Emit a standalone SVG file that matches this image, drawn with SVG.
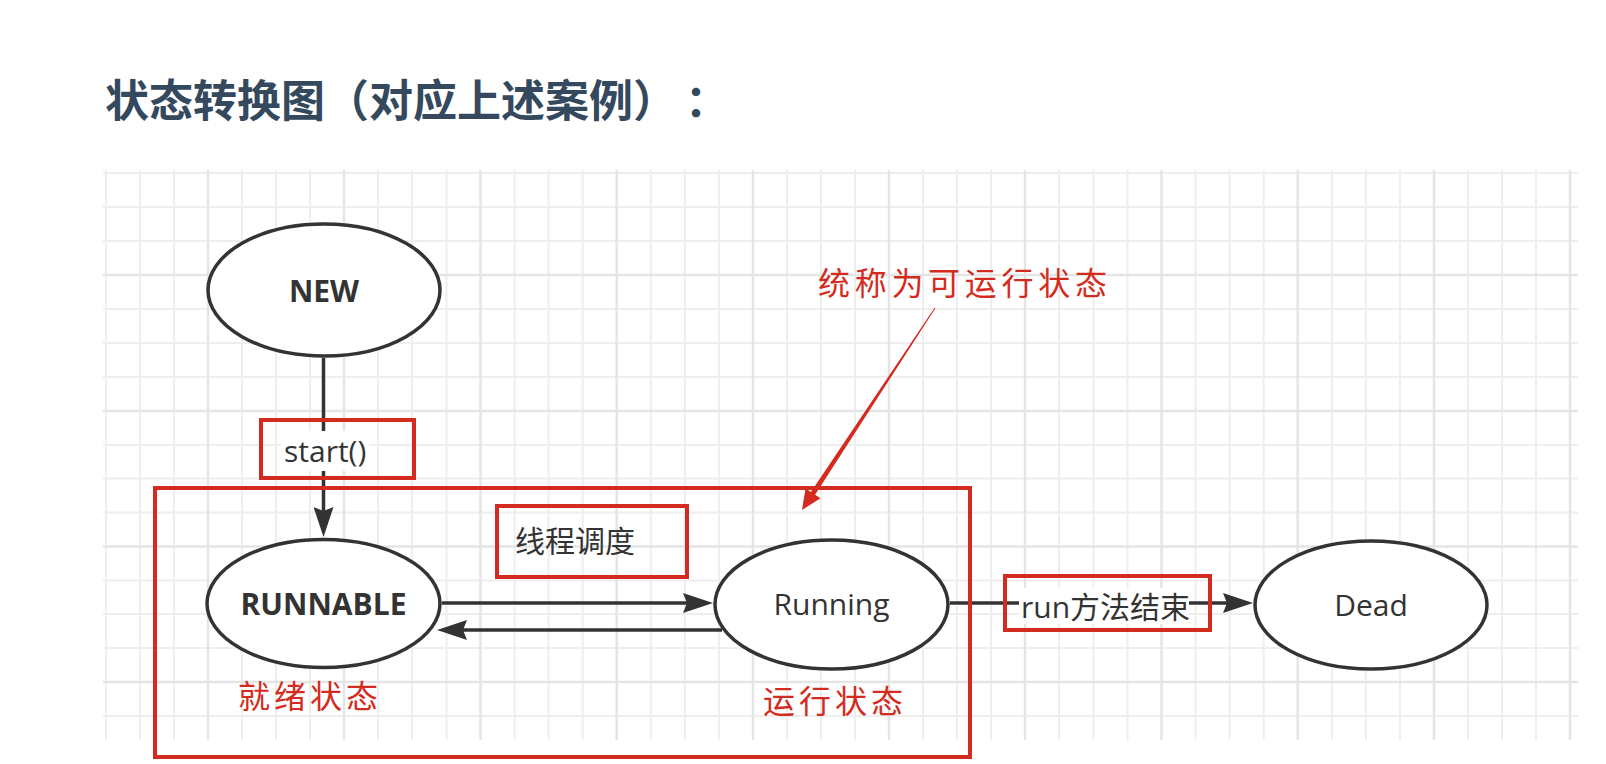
<svg xmlns="http://www.w3.org/2000/svg" width="1606" height="764" viewBox="0 0 1606 764">
<style>
.gmin{stroke:#eeeeee;stroke-width:2;fill:none}
.gmaj{stroke:#e5e5e5;stroke-width:2.5;fill:none}
.node{fill:#ffffff;stroke:#333333;stroke-width:3.5}
.ntext{font-family:"Open Sans","Noto Sans CJK SC",sans-serif;font-size:30px;fill:#333333;text-anchor:middle}
.bold{font-weight:bold}
.ltext{font-family:"Open Sans","Noto Sans CJK SC",sans-serif;font-size:30px;fill:#333333}
.edge{stroke:#333333;stroke-width:3.5;fill:none}
.redbox{fill:none;stroke:#d42b20;stroke-width:4}
.rtext{font-family:"Noto Sans CJK SC",sans-serif;font-size:32px;fill:#d42b20}
.title{font-family:"Noto Sans CJK SC",sans-serif;font-size:44px;font-weight:bold;fill:#34495e;text-spacing-trim:space-all}
</style>
<defs>
<marker id="arr" markerUnits="userSpaceOnUse" markerWidth="30" markerHeight="20" viewBox="0 0 30 20" refX="4" refY="10" orient="auto">
<path d="M0,0 L30,10 L0,20 L4,10 Z" fill="#333333"/>
</marker>
</defs>
<rect width="1606" height="764" fill="#ffffff"/>
<g id="grid">
<path class="gmin" d="M106 170V740M140 170V740M174 170V740M242 170V740M276 170V740M310 170V740M378 170V740M412 170V740M446.5 170V740M514.6 170V740M548.6 170V740M582.7 170V740M650.8 170V740M684.8 170V740M718.9 170V740M787 170V740M821 170V740M855 170V740M923 170V740M957 170V740M991 170V740M1059 170V740M1093.5 170V740M1127.5 170V740M1195.6 170V740M1229.6 170V740M1263.7 170V740M1331.8 170V740M1365.8 170V740M1399.9 170V740M1468 170V740M1502 170V740M1536 170V740M103 173H1578M103 207H1578M103 241H1578M103 309H1578M103 343H1578M103 377H1578M103 445H1578M103 478.5H1578M103 512.5H1578M103 580.5H1578M103 614H1578M103 648H1578M103 716H1578"/>
<path class="gmaj" d="M208 170V740M344 170V740M480.5 170V740M616.7 170V740M753 170V740M889 170V740M1025 170V740M1161.5 170V740M1297.7 170V740M1434 170V740M1570 170V740M103 275H1578M103 411H1578M103 546.5H1578M103 682H1578"/>
</g>
<g id="title">
<text class="title" x="105 149 193 237 281 325 369 413 457 501 545 589 633 685" y="117">状态转换图（对应上述案例）：</text>
</g>
<g id="connectors">
<line class="edge" x1="323.5" y1="358" x2="323.5" y2="511" marker-end="url(#arr)"/>
<line class="edge" x1="442" y1="603" x2="687" y2="603" marker-end="url(#arr)"/>
<line class="edge" x1="722" y1="630" x2="463" y2="630" marker-end="url(#arr)"/>
<line class="edge" x1="950" y1="603" x2="1227" y2="603" marker-end="url(#arr)"/>
</g>
<g id="label-start">
<rect x="281" y="431" width="88" height="40" fill="#ffffff"/>
<text class="ltext" x="284" y="462">start()</text>
<rect class="redbox" x="261" y="420" width="153" height="58"/>
</g>
<g id="label-run-end">
<rect x="1019" y="588" width="170" height="36" fill="#ffffff"/>
<text class="ltext" x="1021" y="618">run方法结束</text>
<rect class="redbox" x="1005" y="576" width="205" height="54"/>
</g>
<g id="label-schedule">
<text class="ltext" x="515" y="552">线程调度</text>
<rect class="redbox" x="497" y="506" width="190" height="71"/>
</g>
<g id="node-new">
<ellipse class="node" cx="324" cy="290" rx="116" ry="66"/>
<text class="ntext bold" x="324" y="302">NEW</text>
</g>
<g id="node-runnable">
<ellipse class="node" cx="323.5" cy="603.5" rx="116.5" ry="64"/>
<text class="ntext bold" x="323.5" y="615">RUNNABLE</text>
</g>
<g id="node-running">
<ellipse class="node" cx="831.5" cy="604.5" rx="116.5" ry="64.5"/>
<text class="ntext" x="831.5" y="615">Running</text>
</g>
<g id="node-dead">
<ellipse class="node" cx="1371" cy="605" rx="116" ry="64"/>
<text class="ntext" x="1371" y="616">Dead</text>
</g>
<g id="runnable-group">
<rect class="redbox" x="155" y="488" width="815" height="269"/>
<text class="rtext" x="238" y="708" letter-spacing="4">就绪状态</text>
<text class="rtext" x="763" y="713" letter-spacing="4">运行状态</text>
</g>
<g id="annotation">
<text class="rtext" x="818" y="295" letter-spacing="4.7">统称为可运行状态</text>
<polygon points="934.6,307.7 935.4,308.3 815.1,494.7 820.5,498.3 802,510 805.5,488.4 810.9,491.9" fill="#d42b20"/>
</g>
</svg>
